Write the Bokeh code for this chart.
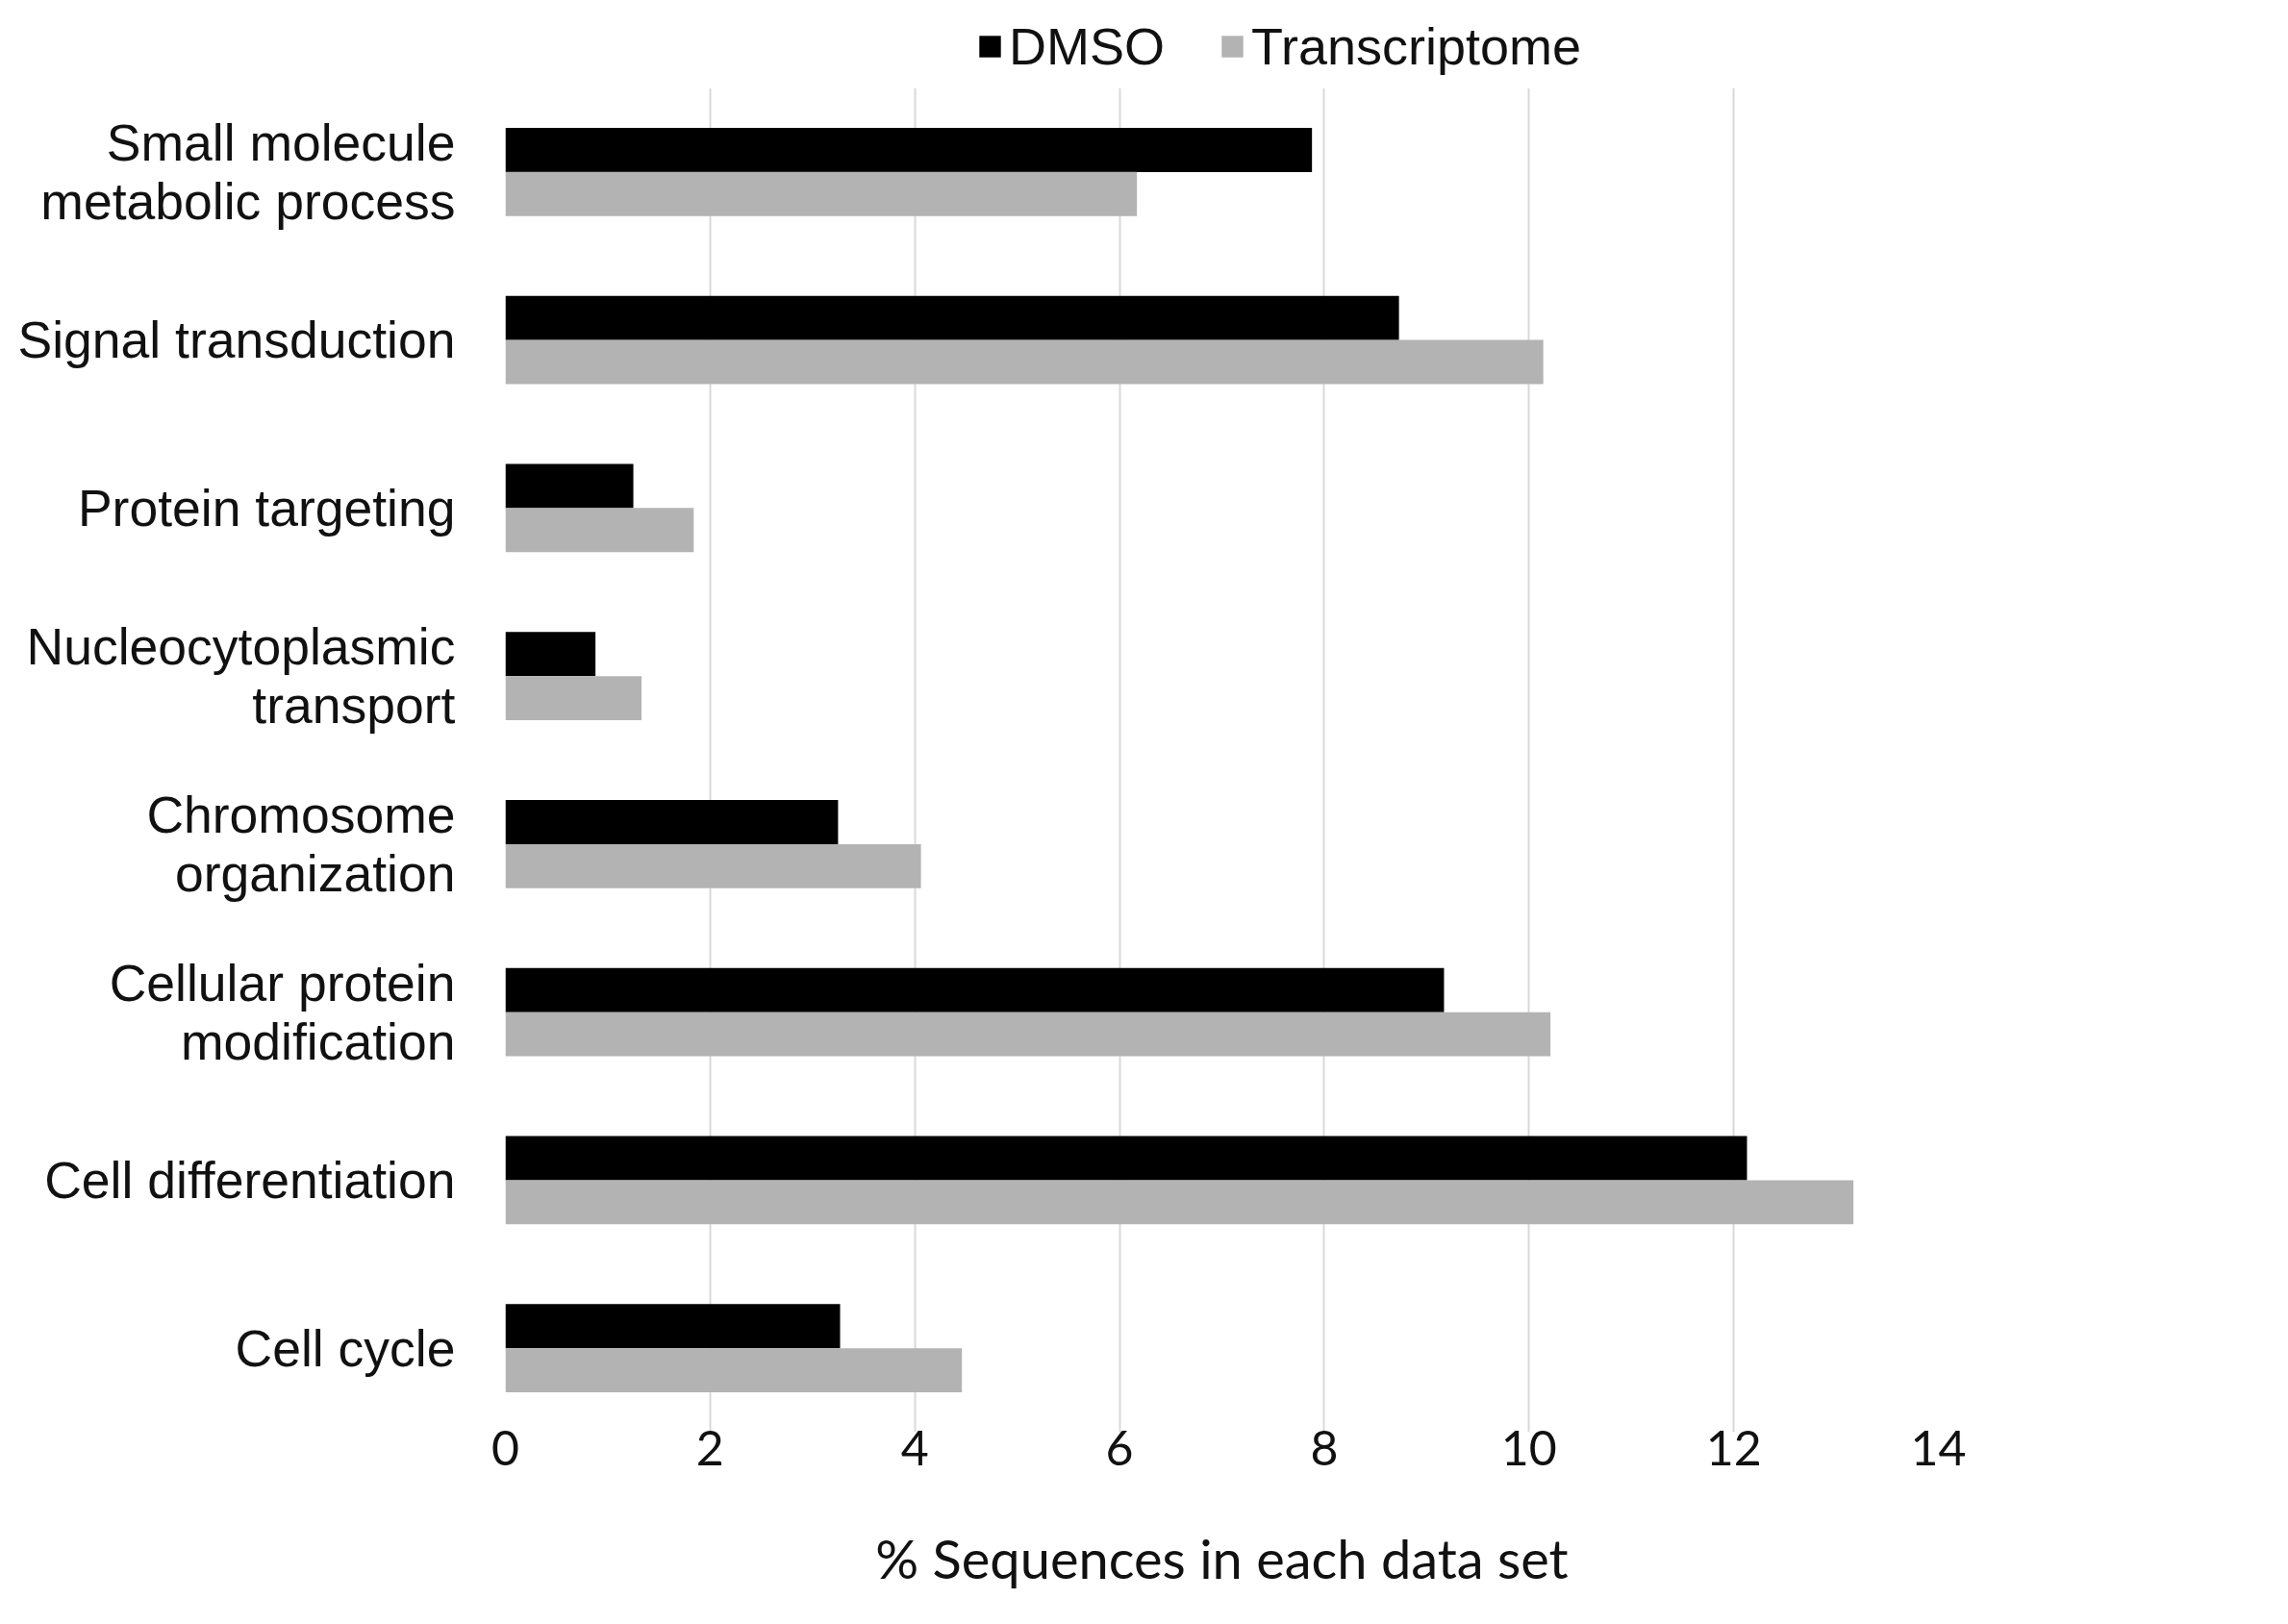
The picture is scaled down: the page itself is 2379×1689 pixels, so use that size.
from bokeh.plotting import figure
from bokeh.models import ColumnDataSource, FactorRange, FixedTicker, Legend, LegendItem
from bokeh.layouts import column
from bokeh.transform import dodge
from bokeh.embed import file_html
from bokeh.resources import INLINE

# ---- data (top to bottom as in the reference) ----
categories = [
    "Small molecule\nmetabolic process",
    "Signal transduction",
    "Protein targeting",
    "Nucleocytoplasmic\ntransport",
    "Chromosome\norganization",
    "Cellular protein\nmodification",
    "Cell differentiation",
    "Cell cycle",
]
dmso = [7.88, 8.73, 1.25, 0.88, 3.25, 9.17, 12.13, 3.27]
transcriptome = [6.17, 10.14, 1.84, 1.33, 4.06, 10.21, 13.17, 4.46]
x_ticks = [0, 2, 4, 6, 8, 10, 12, 14]
series_names = ["DMSO", "Transcriptome"]
series_colors = ["#000000", "#b3b3b3"]

FIG_W = 2360
LEFT = 525
FRAME_W = 1490

source = ColumnDataSource(dict(cat=categories, dmso=dmso, trans=transcriptome))

p = figure(
    y_range=FactorRange(*list(reversed(categories))),
    x_range=(0, 14),
    frame_width=FRAME_W,
    frame_height=1398,
    min_border_left=LEFT,
    min_border_right=FIG_W - LEFT - FRAME_W,
    min_border_top=0,
    min_border_bottom=170,
    output_backend="svg",
    toolbar_location=None,
    background_fill_color="white",
    border_fill_color="white",
)
p.outline_line_color = None

bar_h = 0.263
off = bar_h / 2
r1 = p.hbar(y=dodge("cat", off, range=p.y_range), right="dmso", left=0, height=bar_h,
            source=source, fill_color=series_colors[0], line_color=None)
r2 = p.hbar(y=dodge("cat", -off, range=p.y_range), right="trans", left=0, height=bar_h,
            source=source, fill_color=series_colors[1], line_color=None)

# grid
p.ygrid.grid_line_color = None
p.xgrid.grid_line_color = "#d9d9d9"
p.xgrid.grid_line_width = 2
p.xgrid.ticker = FixedTicker(ticks=x_ticks)

# x axis
xa = p.xaxis[0]
xa.ticker = FixedTicker(ticks=x_ticks)
xa.axis_line_color = None
xa.major_tick_line_color = None
xa.minor_tick_line_color = None
xa.major_label_text_font = "Lato"
xa.major_label_text_font_size = "50px"
xa.major_label_text_color = "#111111"
xa.major_label_standoff = -8
xa.axis_label = "% Sequences in each data set"
xa.axis_label_text_font = "Lato"
xa.axis_label_text_font_size = "56px"
xa.axis_label_text_font_style = "normal"
xa.axis_label_text_color = "#111111"
xa.axis_label_standoff = 60

# y axis
ya = p.yaxis[0]
ya.axis_line_color = None
ya.major_tick_line_color = None
ya.minor_tick_line_color = None
ya.major_label_text_font = "Liberation Sans"
ya.major_label_text_font_size = "53.5px"
ya.major_label_text_color = "#111111"
ya.major_label_standoff = 46
ya.major_label_text_line_height = 1.03

# ---- legend strip above the chart ----
leg = figure(
    width=FIG_W, height=91,
    x_range=(0, 1), y_range=(0, 1),
    x_axis_location=None, y_axis_location=None,
    min_border=0,
    output_backend="svg",
    toolbar_location=None,
    background_fill_color="white",
    border_fill_color="white",
)
leg.outline_line_color = None
leg.xgrid.grid_line_color = None
leg.ygrid.grid_line_color = None
# zero-width placeholder bars: they only carry the legend swatch styles
swatch = ColumnDataSource(dict(y=[0.5], left=[0], right=[0]))
lr1 = leg.hbar(y="y", left="left", right="right", height=0.1, source=swatch,
               fill_color=series_colors[0], line_color=None)
lr2 = leg.hbar(y="y", left="left", right="right", height=0.1, source=swatch,
               fill_color=series_colors[1], line_color=None)

legend = Legend(
    items=[LegendItem(label=series_names[0], renderers=[lr1]),
           LegendItem(label=series_names[1], renderers=[lr2])],
    orientation="horizontal",
    location=(490, 12),
    glyph_width=28,
    glyph_height=28,
    label_standoff=6,
    spacing=56,
    padding=0,
    margin=0,
    border_line_color=None,
    background_fill_alpha=0,
    label_text_font="Liberation Sans",
    label_text_font_size="54px",
    label_text_color="#111111",
)
leg.add_layout(legend, "center")

layout = column(leg, p, spacing=0)

open("out.html", "w").write(file_html(layout, INLINE))
